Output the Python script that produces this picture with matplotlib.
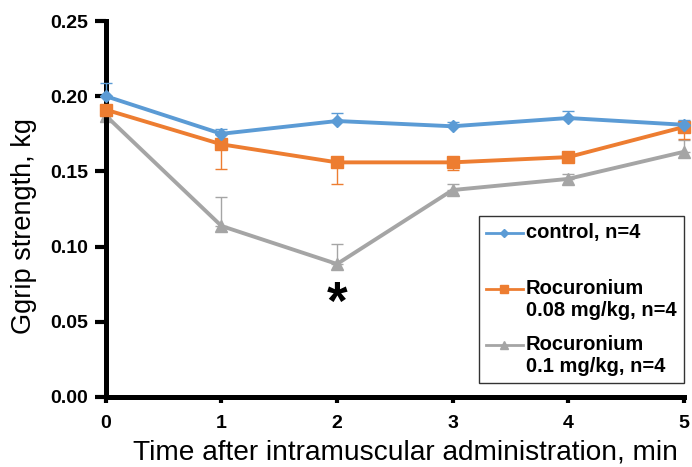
import matplotlib
matplotlib.use("Agg")
import numpy as np
import matplotlib.pyplot as plt
from matplotlib.lines import Line2D
from matplotlib.legend_handler import HandlerLine2D

plt.rcParams['font.family'] = ['Liberation Sans', 'DejaVu Sans']

time = [0, 1, 2, 3, 4, 5]
control = [0.200, 0.175, 0.1835, 0.180, 0.1855, 0.181]
control_err = [0.009, 0.003, 0.005, 0.003, 0.0045, 0.003]
roc008 = [0.191, 0.168, 0.156, 0.156, 0.1595, 0.1795]
roc008_err = [0.003, 0.0165, 0.0146, 0.005, 0.002, 0.008]
roc01 = [0.187, 0.1137, 0.0884, 0.1376, 0.145, 0.163]
roc01_err = [0.003, 0.0195, 0.013, 0.004, 0.003, 0.008]

labels = ["control, n=4\n ", "Rocuronium\n0.08 mg/kg, n=4", "Rocuronium\n0.1 mg/kg, n=4"]
colors = ["#5B9BD5", "#ED7D31", "#A5A5A5"]


class UpHandler(HandlerLine2D):
    def __init__(self, dy, **kw):
        super().__init__(**kw)
        self.dy = dy

    def create_artists(self, legend, orig_handle, xdescent, ydescent, width,
                       height, fontsize, trans):
        arts = super().create_artists(legend, orig_handle, xdescent, ydescent,
                                      width, height, fontsize, trans)
        for a in arts:
            a.set_ydata(np.asarray(a.get_ydata(), dtype=float) + self.dy)
        return arts


fig = plt.figure(figsize=(6.92, 4.67), dpi=100)
ax = fig.add_axes([0.153, 0.150, 0.835, 0.805])

zeros = [0] * len(time)
for y, err, c, m, ms, z in [(roc01, [zeros, roc01_err], colors[2], '^', 8, 2),
                            (roc008, [roc008_err, zeros], colors[1], 's', 8, 3),
                            (control, [zeros, control_err], colors[0], 'D', 6, 4)]:
    lines = ax.errorbar(time, y, yerr=err, color=c, lw=2.8, marker=m, ms=ms,
                        capsize=4, elinewidth=1, capthick=1, zorder=z)
    for art in lines.get_children():
        art.set_clip_on(False)

ax.text(2, 0.061, "*", ha='center', va='center', fontsize=38, fontweight='bold')

ax.set_xlim(0, 5)
ax.set_ylim(0, 0.25)
ax.set_xticks(time)
ax.set_yticks([0, 0.05, 0.10, 0.15, 0.20, 0.25])
ax.set_yticklabels(["0.00", "0.05", "0.10", "0.15", "0.20", "0.25"])
for lab in ax.get_xticklabels() + ax.get_yticklabels():
    lab.set_fontweight('bold')
    lab.set_fontsize(14)
ax.spines['top'].set_visible(False)
ax.spines['right'].set_visible(False)
ax.spines['left'].set_linewidth(3.6)
ax.spines['bottom'].set_linewidth(3.6)
ax.tick_params(axis='y', direction='out', width=3, length=8, pad=5)
ax.tick_params(axis='x', direction='out', width=3, length=4, pad=9)
ax.set_ylabel("Ggrip strength, kg", fontsize=19.5)
ax.set_xlabel("Time after intramuscular administration, min", fontsize=20.2)
ax.yaxis.set_label_coords(-0.12, 0.455)
ax.xaxis.set_label_coords(0.518, -0.112)

hs = [Line2D([], [], color=colors[0], lw=2, marker='D', ms=4),
      Line2D([], [], color=colors[1], lw=2, marker='s', ms=6),
      Line2D([], [], color=colors[2], lw=2, marker='^', ms=6)]
leg = ax.legend(hs, labels, loc='upper right', bbox_to_anchor=(1.0, 0.481),
                borderaxespad=0,
                handler_map={Line2D: UpHandler(8.0)},
                prop={'weight': 'bold', 'size': 14.5}, frameon=True, fancybox=False,
                edgecolor='black', handlelength=1.85, handletextpad=0.15,
                labelspacing=0.75, borderpad=0.35)
leg.get_frame().set_linewidth(1.0)

fig.savefig("out.png", dpi=100)
